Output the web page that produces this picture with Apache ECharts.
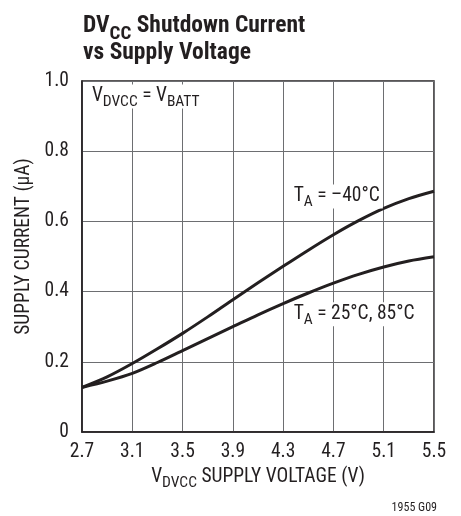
<!DOCTYPE html>
<html>
<head>
<meta charset="utf-8">
<script src="https://cdn.jsdelivr.net/npm/echarts@6/dist/echarts.min.js"></script>
<style>html,body{margin:0;padding:0;background:#fff;}#c{width:461px;height:516px;}</style>
</head>
<body>
<div id="c"></div>
<script>
// Data
var voltage = [2.7, 2.9, 3.1, 3.3, 3.5, 3.7, 3.9, 4.1, 4.3, 4.5, 4.7, 4.9, 5.1, 5.3, 5.5];
var currentMinus40 = [0.127, 0.157, 0.195, 0.237, 0.281, 0.328, 0.377, 0.425, 0.472, 0.518, 0.562, 0.602, 0.637, 0.665, 0.686];
var current25_85 = [0.127, 0.145, 0.167, 0.198, 0.232, 0.266, 0.300, 0.334, 0.366, 0.396, 0.424, 0.449, 0.470, 0.487, 0.499];
var xTicks = [2.7, 3.1, 3.5, 3.9, 4.3, 4.7, 5.1, 5.5];
var yTicks = [0, 0.2, 0.4, 0.6, 0.8, 1.0];
var X0 = 2.7;

var FONT = '"Roboto Condensed", "Liberation Sans", sans-serif';
var INK = '#231f20';
var FS = 19.5;

function pairs(xs, ys) { return xs.map(function (x, i) { return [+(x - X0).toFixed(4), ys[i]]; }); }

var chart = echarts.init(document.getElementById('c'), null, {renderer: 'canvas'});
var option = {
  animation: false,
  backgroundColor: '#fff',
  title: {
    left: 78, top: 8,
    text: '{a|DV}{s|CC}{a| Shutdown Current}\n{a|vs Supply Voltage}',
    textStyle: {
      rich: {
        a: {fontFamily: FONT, fontWeight: 'bold', fontSize: 23.5, color: INK, lineHeight: 27},
        s: {fontFamily: FONT, fontWeight: 'bold', fontSize: 19, color: INK, lineHeight: 19, verticalAlign: 'bottom', padding: [0,0,-4,0]}
      }
    }
  },
  grid: {left: 82, right: 27, top: 81, bottom: 84, show: true, borderColor: INK, borderWidth: 1.5, backgroundColor: 'transparent'},
  xAxis: {
    type: 'value', min: 0, max: +(xTicks[xTicks.length-1] - X0).toFixed(4), interval: 0.4,
    axisLine: {show: true, lineStyle: {color: INK, width: 1.5}},
    axisTick: {show: false},
    splitLine: {show: true, lineStyle: {color: '#6d6e71', width: 1}},
    axisLabel: {fontFamily: FONT, fontSize: FS, color: INK, margin: 10,
      formatter: function (v) { return (v + X0).toFixed(1); }},
    name: '{n|V}{s|DVCC}{n| SUPPLY VOLTAGE (V)}',
    nameLocation: 'middle', nameGap: 33,
    nameTextStyle: {rich: {
      n: {fontFamily: FONT, fontSize: FS, color: INK, lineHeight: 20},
      s: {fontFamily: FONT, fontSize: 15.5, color: INK, lineHeight: 15, verticalAlign: 'bottom', padding: [0,0,-4,0]}
    }}
  },
  yAxis: {
    type: 'value', min: yTicks[0], max: yTicks[yTicks.length-1], interval: 0.2,
    axisLine: {show: true, lineStyle: {color: INK, width: 1.5}},
    axisTick: {show: false},
    splitLine: {show: true, lineStyle: {color: '#6d6e71', width: 1}},
    axisLabel: {fontFamily: FONT, fontSize: FS, color: INK, margin: 13,
      formatter: function (v) { return v === 0 ? '0' : v.toFixed(1); }},
    name: 'SUPPLY CURRENT (µA)', nameLocation: 'middle', nameGap: 47,
    nameTextStyle: {fontFamily: FONT, fontSize: FS, color: INK, padding: [0, 0, 0, 20]}
  },
  series: [
    {type: 'line', data: pairs(voltage, currentMinus40), smooth: 0.3, showSymbol: false,
     lineStyle: {color: INK, width: 3}},
    {type: 'line', data: pairs(voltage, current25_85), smooth: 0.3, showSymbol: false,
     lineStyle: {color: INK, width: 3}}
  ]
};
chart.setOption(option);

// Annotations positioned in data coordinates (top-left of text box)
var notes = [
  {at: [2.755, 0.99], text: '{n|V}{s|DVCC}{n| = V}{s|BATT}'},
  {at: [4.36, 0.705], text: '{n|T}{s|A}{n| = –40°C}'},
  {at: [4.36, 0.37], text: '{n|T}{s|A}{n| = 25°C, 85°C}'}
];
var graphics = notes.map(function (nt) {
  var p = chart.convertToPixel({gridIndex: 0}, [nt.at[0] - X0, nt.at[1]]);
  return {type: 'text', x: p[0], y: p[1], z: 10,
    style: {text: nt.text, backgroundColor: '#fff', padding: [2, 3, 2, 3],
      rich: {
        n: {fontFamily: FONT, fontSize: FS, fill: INK, lineHeight: 20},
        s: {fontFamily: FONT, fontSize: 15.5, fill: INK, lineHeight: 15, verticalAlign: 'bottom', padding: [0,0,-4,0]}
      }}};
});
graphics.push({type: 'text', right: 24, bottom: 2,
  style: {text: '1955 G09', fontFamily: FONT, fontSize: 12, fill: INK}});
chart.setOption({graphic: graphics});
</script>
</body>
</html>
